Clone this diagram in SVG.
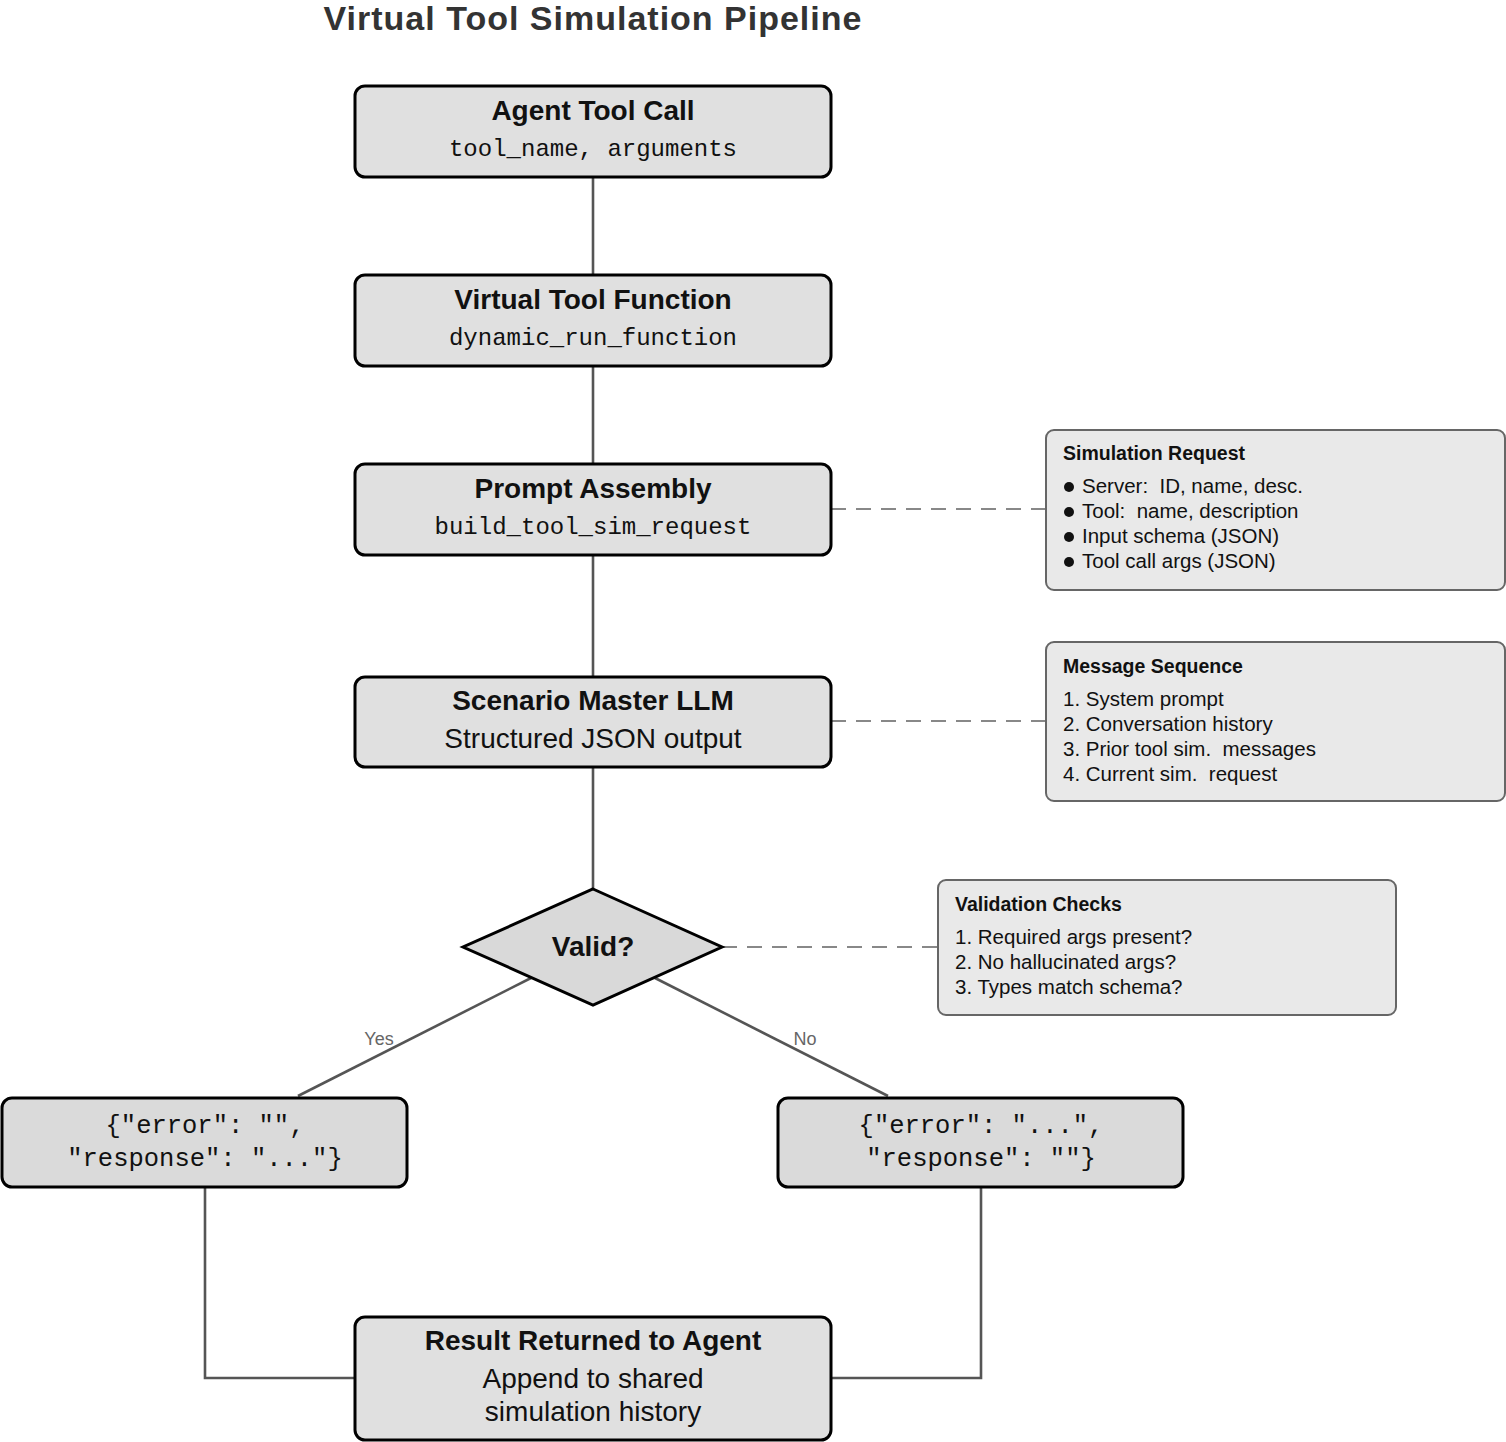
<svg xmlns="http://www.w3.org/2000/svg" width="1506" height="1442" viewBox="0 0 1506 1442">
<style>
.node{fill:#e0e0e0;stroke:#000;stroke-width:3}
.res{fill:#dadada;stroke:#000;stroke-width:3}
.note{fill:#e9e9e9;stroke:#666;stroke-width:2}
.conn{fill:none;stroke:#555;stroke-width:2.6}
.dash{fill:none;stroke:#888;stroke-width:2;stroke-dasharray:15 10}
.t{font-family:"Liberation Sans",Arial,sans-serif;font-weight:bold;font-size:28px;fill:#111;text-anchor:middle}
.s{font-family:"Liberation Sans",Arial,sans-serif;font-size:28px;fill:#111;text-anchor:middle}
.m{font-family:"Liberation Mono","Courier New",monospace;font-size:24px;fill:#111;text-anchor:middle}
.j{font-family:"Liberation Mono","Courier New",monospace;font-size:25.5px;fill:#111;text-anchor:middle}
.nt{font-family:"Liberation Sans",Arial,sans-serif;font-weight:bold;font-size:19.5px;fill:#111}
.ni{font-family:"Liberation Sans",Arial,sans-serif;font-size:20.5px;fill:#111;white-space:pre}
.lbl{font-family:"Liberation Sans",Arial,sans-serif;font-size:18px;fill:#666;text-anchor:middle}
</style>
<text x="593" y="30" font-family="Liberation Sans, Arial, sans-serif" font-weight="bold" font-size="34" fill="#333" text-anchor="middle" letter-spacing="1">Virtual Tool Simulation Pipeline</text>

<g id="connectors">
<line class="conn" x1="593" y1="177" x2="593" y2="275"/>
<line class="conn" x1="593" y1="366" x2="593" y2="464"/>
<line class="conn" x1="593" y1="555" x2="593" y2="677"/>
<line class="conn" x1="593" y1="767" x2="593" y2="889"/>
<line class="conn" x1="531" y1="978" x2="298" y2="1096"/>
<line class="conn" x1="655" y1="978" x2="888" y2="1096"/>
<polyline class="conn" points="205,1187 205,1378 355,1378"/>
<polyline class="conn" points="981,1187 981,1378 831,1378"/>
<line class="dash" x1="831" y1="509" x2="1046" y2="509"/>
<line class="dash" x1="831" y1="721" x2="1046" y2="721"/>
<line class="dash" x1="722" y1="947" x2="938" y2="947"/>
<text class="lbl" x="379" y="1045">Yes</text>
<text class="lbl" x="805" y="1045">No</text>
</g>

<g id="agent-tool-call">
<rect class="node" x="355" y="86" width="476" height="91" rx="10"/>
<text class="t" x="593" y="120">Agent Tool Call</text>
<text class="m" x="593" y="156">tool_name, arguments</text>
</g>

<g id="virtual-tool-function">
<rect class="node" x="355" y="275" width="476" height="91" rx="10"/>
<text class="t" x="593" y="309">Virtual Tool Function</text>
<text class="m" x="593" y="345">dynamic_run_function</text>
</g>

<g id="prompt-assembly">
<rect class="node" x="355" y="464" width="476" height="91" rx="10"/>
<text class="t" x="593" y="498">Prompt Assembly</text>
<text class="m" x="593" y="534">build_tool_sim_request</text>
</g>

<g id="scenario-master">
<rect class="node" x="355" y="677" width="476" height="90" rx="10"/>
<text class="t" x="593" y="710">Scenario Master LLM</text>
<text class="s" x="593" y="748">Structured JSON output</text>
</g>

<g id="valid">
<polygon points="593,889 722,947 593,1005 463,947" fill="#d9d9d9" stroke="#000" stroke-width="3" stroke-linejoin="miter"/>
<text class="t" x="593" y="956">Valid?</text>
</g>

<g id="success-result">
<rect class="res" x="2" y="1098" width="405" height="89" rx="10"/>
<text class="j" x="205" y="1133">{"error": "",</text>
<text class="j" x="205" y="1166">"response": "..."}</text>
</g>

<g id="error-result">
<rect class="res" x="778" y="1098" width="405" height="89" rx="10"/>
<text class="j" x="981" y="1133">{"error": "...",</text>
<text class="j" x="981" y="1166">"response": ""}</text>
</g>

<g id="result-returned">
<rect class="node" x="355" y="1317" width="476" height="123" rx="10"/>
<text class="t" x="593" y="1350">Result Returned to Agent</text>
<text class="s" x="593" y="1388">Append to shared</text>
<text class="s" x="593" y="1421">simulation history</text>
</g>

<g id="simulation-request">
<rect class="note" x="1046" y="430" width="459" height="160" rx="8"/>
<text class="nt" x="1063" y="460">Simulation Request</text>
<circle cx="1069" cy="487" r="5" fill="#111"/>
<circle cx="1069" cy="512" r="5" fill="#111"/>
<circle cx="1069" cy="537" r="5" fill="#111"/>
<circle cx="1069" cy="562" r="5" fill="#111"/>
<text class="ni" x="1082" y="493" xml:space="preserve">Server:  ID, name, desc.</text>
<text class="ni" x="1082" y="518" xml:space="preserve">Tool:  name, description</text>
<text class="ni" x="1082" y="543">Input schema (JSON)</text>
<text class="ni" x="1082" y="568">Tool call args (JSON)</text>
</g>

<g id="message-sequence">
<rect class="note" x="1046" y="642" width="459" height="159" rx="8"/>
<text class="nt" x="1063" y="673">Message Sequence</text>
<text class="ni" x="1063" y="706">1. System prompt</text>
<text class="ni" x="1063" y="731">2. Conversation history</text>
<text class="ni" x="1063" y="756" xml:space="preserve">3. Prior tool sim.  messages</text>
<text class="ni" x="1063" y="781" xml:space="preserve">4. Current sim.  request</text>
</g>

<g id="validation-checks">
<rect class="note" x="938" y="880" width="458" height="135" rx="8"/>
<text class="nt" x="955" y="911">Validation Checks</text>
<text class="ni" x="955" y="944">1. Required args present?</text>
<text class="ni" x="955" y="969">2. No hallucinated args?</text>
<text class="ni" x="955" y="994">3. Types match schema?</text>
</g>
</svg>
